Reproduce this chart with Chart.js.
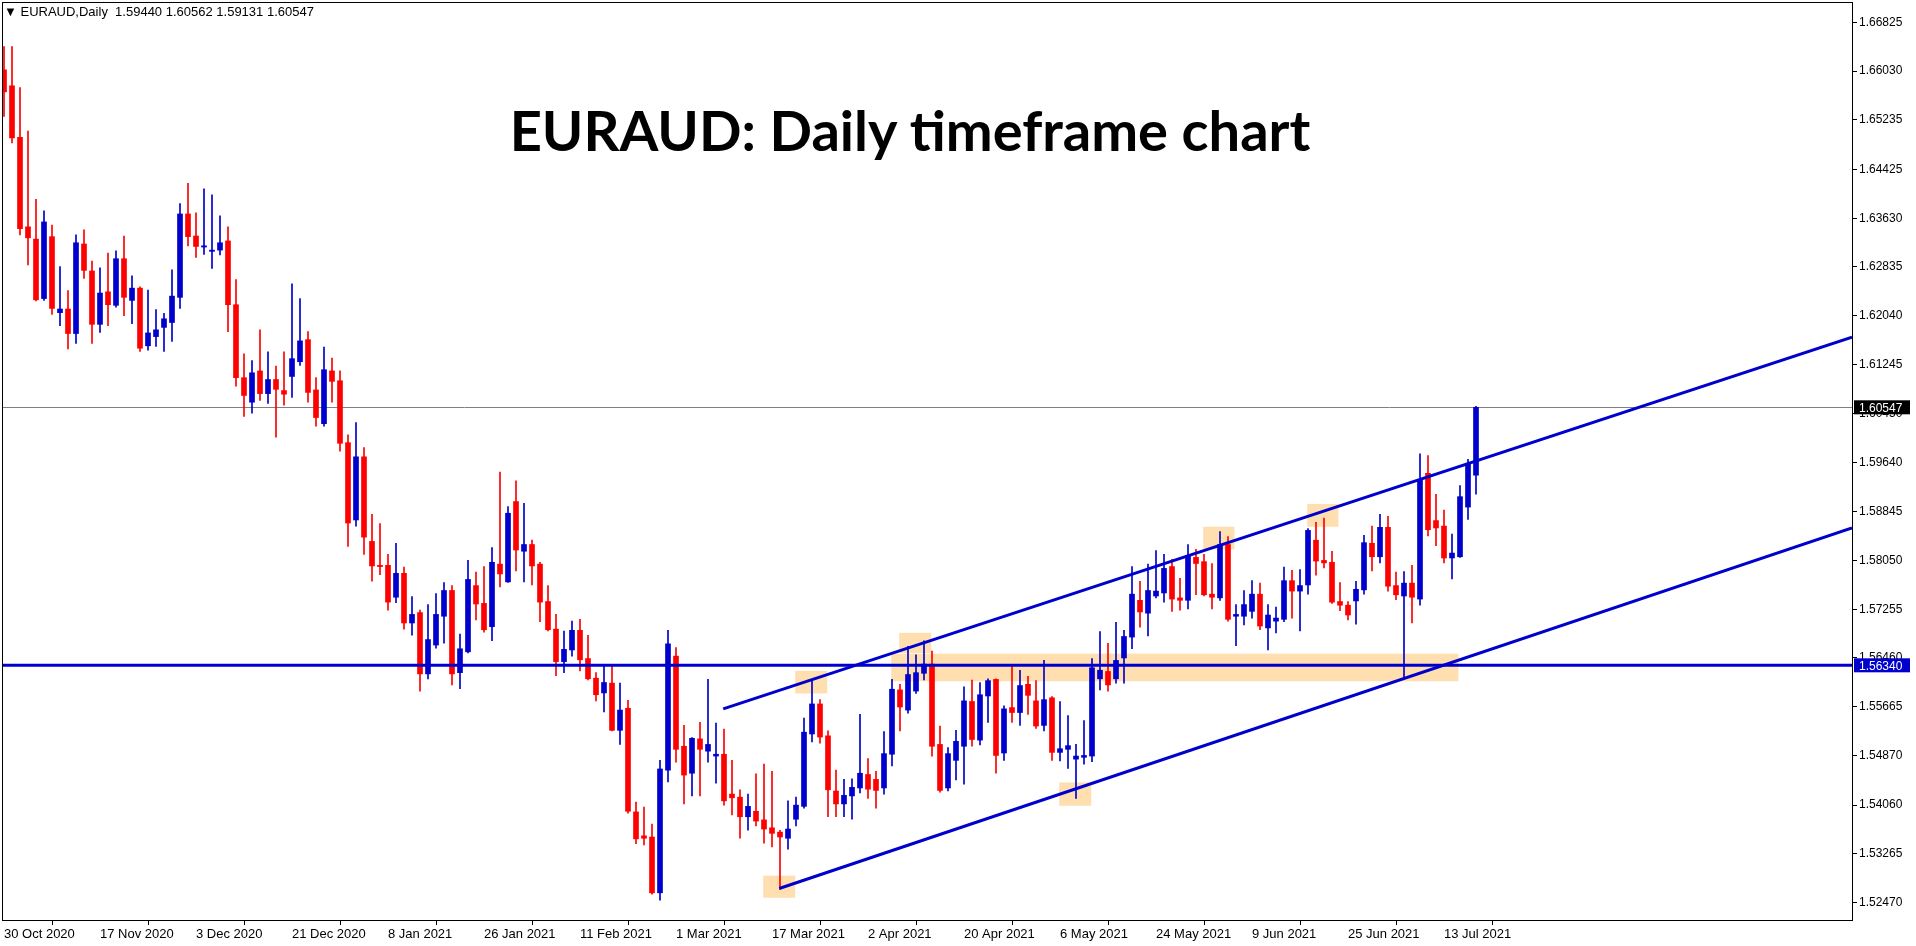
<!DOCTYPE html>
<html><head><meta charset="utf-8">
<script src="https://cdn.jsdelivr.net/npm/chart.js@4"></script>
<style>
html,body{margin:0;padding:0;background:#fff;overflow:hidden}
#wrap{position:relative;width:1916px;height:946px}
#hdr{position:absolute;left:4px;top:4px;font:13px "Liberation Sans",Arial,sans-serif;color:#000;white-space:pre}
#ttl{position:absolute;left:0;width:1820px;top:96px;text-align:center;font:bold 56px Lato,"Open Sans",sans-serif;color:#000}
</style></head><body>
<div id="wrap"><canvas id="c" width="1916" height="946"></canvas>
<div id="hdr">▼ EURAUD,Daily  1.59440 1.60562 1.59131 1.60547</div>
<div id="ttl">EURAUD: Daily timeframe chart</div></div>
<script>
const opens=[1.6605,1.6579,1.6495,1.6349,1.6329,1.6232,1.6333,1.6209,1.6215,1.6175,1.6321,1.6277,1.6190,1.6243,1.6221,1.6297,1.6229,1.6249,1.6155,1.6170,1.6185,1.6193,1.6234,1.6370,1.6334,1.6316,1.6309,1.6311,1.6326,1.6222,1.6103,1.6063,1.6114,1.6077,1.6100,1.6082,1.6105,1.6129,1.6165,1.6083,1.6028,1.6114,1.6098,1.5997,1.5871,1.5974,1.5836,1.5797,1.5797,1.5745,1.5784,1.5703,1.5720,1.5620,1.5667,1.5714,1.5756,1.5622,1.5656,1.5764,1.5735,1.5697,1.5799,1.5770,1.5901,1.5820,1.5831,1.5799,1.5738,1.5693,1.5640,1.5659,1.5691,1.5645,1.5613,1.5589,1.5605,1.5528,1.5564,1.5395,1.5356,1.5354,1.5263,1.5463,1.5649,1.5502,1.5458,1.5514,1.5494,1.5486,1.5489,1.5424,1.5419,1.5387,1.5396,1.5382,1.5369,1.5362,1.5352,1.5383,1.5404,1.5522,1.5571,1.5519,1.5429,1.5408,1.5421,1.5434,1.5456,1.5448,1.5434,1.5489,1.5594,1.5561,1.5592,1.5621,1.5636,1.5505,1.5434,1.5479,1.5502,1.5575,1.5512,1.5584,1.5611,1.5491,1.5565,1.5557,1.5603,1.5576,1.5536,1.5581,1.5492,1.5497,1.5481,1.5484,1.5486,1.5612,1.5624,1.5612,1.5646,1.5680,1.5740,1.5719,1.5747,1.5752,1.5795,1.5744,1.5740,1.5810,1.5803,1.5750,1.5744,1.5831,1.5714,1.5714,1.5722,1.5750,1.5695,1.5706,1.5709,1.5772,1.5755,1.5765,1.5838,1.5805,1.5802,1.5738,1.5732,1.5739,1.5757,1.5833,1.5811,1.5859,1.5764,1.5747,1.5768,1.5742,1.5947,1.5870,1.5861,1.5809,1.5811,1.5892,1.5944];
const highs=[1.6643,1.6643,1.6576,1.6505,1.6394,1.6375,1.6352,1.6284,1.6245,1.6336,1.6344,1.6293,1.6282,1.6306,1.6310,1.6334,1.6269,1.6251,1.6246,1.6214,1.6208,1.6279,1.6387,1.6420,1.6372,1.6411,1.6401,1.6367,1.6349,1.6263,1.6142,1.6131,1.6181,1.6145,1.6122,1.6145,1.6256,1.6232,1.6178,1.6103,1.6153,1.6135,1.6114,1.6010,1.6030,1.5989,1.5880,1.5865,1.5815,1.5833,1.5794,1.5746,1.5724,1.5733,1.5751,1.5769,1.5764,1.5685,1.5805,1.5786,1.5795,1.5826,1.5949,1.5893,1.5935,1.5898,1.5838,1.5802,1.5764,1.5717,1.5690,1.5706,1.5709,1.5683,1.5622,1.5633,1.5633,1.5605,1.5577,1.5411,1.5403,1.5375,1.5479,1.5691,1.5663,1.5536,1.5516,1.5541,1.5611,1.5540,1.5530,1.5479,1.5431,1.5424,1.5457,1.5473,1.5461,1.5365,1.5413,1.5419,1.5548,1.5611,1.5578,1.5527,1.5463,1.5448,1.5449,1.5554,1.5482,1.5461,1.5526,1.5611,1.5603,1.5665,1.5651,1.5674,1.5657,1.5535,1.5500,1.5528,1.5599,1.5610,1.5606,1.5612,1.5612,1.5568,1.5632,1.5626,1.5616,1.5609,1.5642,1.5583,1.5575,1.5552,1.5505,1.5544,1.5645,1.5689,1.5670,1.5704,1.5691,1.5795,1.5771,1.5799,1.5821,1.5815,1.5807,1.5776,1.5831,1.5823,1.5815,1.5800,1.5852,1.5844,1.5733,1.5756,1.5772,1.5768,1.5733,1.5729,1.5794,1.5789,1.5790,1.5857,1.5867,1.5874,1.5820,1.5769,1.5738,1.5771,1.5846,1.5861,1.5880,1.5877,1.5786,1.5787,1.5797,1.5979,1.5976,1.5913,1.5887,1.5848,1.5927,1.5970,1.60562];
const lows=[1.6529,1.6486,1.6336,1.6287,1.6228,1.6229,1.6206,1.6188,1.6150,1.6159,1.6265,1.6159,1.6177,1.6188,1.6218,1.6204,1.6191,1.6146,1.6148,1.6154,1.6146,1.6162,1.6216,1.6318,1.6299,1.6304,1.6281,1.6303,1.6178,1.6089,1.6040,1.6045,1.6066,1.6061,1.6006,1.6058,1.6071,1.6123,1.6063,1.6024,1.6024,1.6063,1.5983,1.5828,1.5861,1.5815,1.5771,1.5782,1.5724,1.5736,1.5693,1.5683,1.5592,1.5612,1.5662,1.5670,1.5602,1.5596,1.5654,1.5708,1.5688,1.5674,1.5762,1.5769,1.5788,1.5770,1.5765,1.5705,1.5690,1.5617,1.5622,1.5649,1.5625,1.5610,1.5576,1.5558,1.5527,1.5505,1.5393,1.5343,1.5341,1.5261,1.5251,1.5444,1.5476,1.5408,1.5421,1.5421,1.5476,1.5442,1.5406,1.5390,1.5352,1.5365,1.5372,1.5344,1.5338,1.5269,1.5334,1.5372,1.5401,1.5509,1.5507,1.5387,1.5387,1.5387,1.5383,1.5426,1.5417,1.5401,1.5424,1.5470,1.5527,1.5556,1.5588,1.5610,1.5486,1.5427,1.5429,1.5447,1.5440,1.5502,1.5504,1.5541,1.5458,1.5479,1.5541,1.5536,1.5554,1.5531,1.5527,1.5479,1.5478,1.5466,1.5417,1.5473,1.5477,1.5594,1.5592,1.5605,1.5605,1.5661,1.5696,1.5682,1.5744,1.5737,1.5722,1.5724,1.5726,1.5749,1.5747,1.5726,1.5740,1.5706,1.5666,1.5700,1.5711,1.5692,1.5659,1.5687,1.5705,1.5711,1.5690,1.5750,1.5781,1.5793,1.5735,1.5723,1.5708,1.5701,1.5750,1.5788,1.5801,1.5755,1.5741,1.5612,1.5703,1.5732,1.5845,1.5829,1.5801,1.5775,1.5810,1.5872,1.59131];
const closes=[1.6569,1.6494,1.6346,1.6331,1.6230,1.6357,1.6216,1.6215,1.6175,1.6323,1.6278,1.6190,1.6241,1.6222,1.6297,1.6234,1.6249,1.6151,1.6176,1.6181,1.6199,1.6236,1.6370,1.6333,1.6317,1.6318,1.6311,1.6323,1.6222,1.6103,1.6074,1.6111,1.6077,1.6100,1.6084,1.6076,1.6134,1.6163,1.6079,1.6038,1.6116,1.6097,1.5996,1.5866,1.5974,1.5843,1.5796,1.5795,1.5737,1.5784,1.5703,1.5717,1.5620,1.5676,1.5717,1.5756,1.5620,1.5661,1.5774,1.5734,1.5692,1.5802,1.5783,1.5882,1.5822,1.5831,1.5796,1.5737,1.5692,1.5640,1.5660,1.5691,1.5643,1.5612,1.5586,1.5606,1.5528,1.5561,1.5396,1.5351,1.5352,1.5263,1.5465,1.5669,1.5497,1.5455,1.5515,1.5497,1.5505,1.5489,1.5413,1.5418,1.5387,1.5404,1.5380,1.5367,1.5360,1.5354,1.5367,1.5406,1.5525,1.5571,1.5517,1.5431,1.5408,1.5422,1.5435,1.5458,1.5432,1.5430,1.5490,1.5595,1.5566,1.5619,1.5622,1.5636,1.5502,1.5430,1.5490,1.5510,1.5576,1.5513,1.5586,1.5609,1.5487,1.5563,1.5557,1.5601,1.5585,1.5535,1.5578,1.5492,1.5498,1.5503,1.5486,1.5487,1.5630,1.5626,1.5602,1.5642,1.5681,1.5750,1.5721,1.5756,1.5755,1.5792,1.5742,1.5740,1.5813,1.5800,1.5749,1.5745,1.5831,1.5709,1.5717,1.5733,1.5750,1.5698,1.5716,1.5711,1.5772,1.5755,1.5764,1.5854,1.5804,1.5801,1.5737,1.5732,1.5716,1.5758,1.5834,1.5811,1.5859,1.5763,1.5749,1.5768,1.5745,1.5937,1.5855,1.5858,1.5809,1.5817,1.5909,1.5963,1.60547];
const xTickIdx=[0,12,24,36,48,60,72,84,96,108,120,132,144,156,168,180];
const xTickLabels=["30 Oct 2020","17 Nov 2020","3 Dec 2020","21 Dec 2020","8 Jan 2021","26 Jan 2021","11 Feb 2021","1 Mar 2021","17 Mar 2021","2 Apr 2021","20 Apr 2021","6 May 2021","24 May 2021","9 Jun 2021","25 Jun 2021","13 Jul 2021"];
const yTicks=[1.52470,1.53265,1.54060,1.54870,1.55665,1.56460,1.57255,1.58050,1.58845,1.59640,1.60450,1.61245,1.62040,1.62835,1.63630,1.64425,1.65235,1.66030,1.66825];
const supportLevel=1.56340;
const lastPrice=1.60547;
const upperChannel=[{x:89.9,y:1.5563},{x:187,y:1.5980}];
const lowerChannel=[{x:96.9,y:1.5270},{x:187,y:1.5665}];
// zones: [x1,x2,priceLow,priceHigh]
const zones=[[94.9,98.9,1.5255,1.5291],[98.9,102.9,1.5588,1.5625],[111.9,115.9,1.5654,1.5687],[110.9,181.8,1.5608,1.5653],[131.9,135.9,1.5405,1.5443],[149.9,153.8,1.5823,1.5860],[162.9,166.8,1.5860,1.5897]];

const RED='#FF0000',BLUE='#0000CD';
const XMIN=-0.25,XMAX=231;
function extend(pts,xe){const a=pts[0],b=pts[1];const s=(b.y-a.y)/(b.x-a.x);return [a,{x:xe,y:a.y+s*(xe-a.x)}];}
const cols=opens.map((o,i)=>closes[i]>=o?BLUE:RED);
const wick=opens.map((o,i)=>({x:i,y:[lows[i],highs[i]]}));
const body=opens.map((o,i)=>({x:i,y:[Math.min(o,closes[i]),Math.max(o,closes[i])]}));

const bg={id:'bg',beforeDatasetsDraw(ch){const {ctx,scales:{x,y}}=ch;ctx.save();ctx.fillStyle='rgba(255,222,176,1)';
 zones.forEach(z=>{const x1=x.getPixelForValue(z[0]),x2=x.getPixelForValue(z[1]),y1=y.getPixelForValue(z[3]),y2=y.getPixelForValue(z[2]);ctx.fillRect(x1,y1,x2-x1,y2-y1);});
 const ca=ch.chartArea;const gy=Math.round(y.getPixelForValue(lastPrice))+0.5;ctx.strokeStyle='#808080';ctx.lineWidth=1;ctx.beginPath();ctx.moveTo(ca.left,gy);ctx.lineTo(ca.right,gy);ctx.stroke();ctx.restore();},
 afterDraw(ch){const {ctx,scales:{y}}=ch;const ca=ch.chartArea;ctx.save();ctx.strokeStyle='#000';ctx.lineWidth=1;ctx.strokeRect(ca.left+0.5,ca.top+0.5,ca.right-ca.left,ca.bottom-ca.top);
 ctx.font='12px "Liberation Sans", Arial';ctx.textBaseline='middle';
 let py=y.getPixelForValue(lastPrice);ctx.fillStyle='#000';ctx.fillRect(ca.right+2,py-7,56,14);ctx.fillStyle='#fff';ctx.fillText(lastPrice.toFixed(5),ca.right+7,py+1);
 py=y.getPixelForValue(supportLevel);ctx.fillStyle=BLUE;ctx.fillRect(ca.right+2,py-7,56,14);ctx.fillStyle='#fff';ctx.fillText(supportLevel.toFixed(5),ca.right+7,py+1);
 ctx.restore();}};

new Chart(document.getElementById('c'),{
 data:{datasets:[
  {type:'bar',data:wick,backgroundColor:cols,barThickness:1,grouped:false,order:3},
  {type:'bar',data:body,backgroundColor:cols,barThickness:5,minBarLength:1,grouped:false,order:2},
  {type:'line',data:[{x:XMIN,y:supportLevel},{x:XMAX,y:supportLevel}],borderColor:BLUE,borderWidth:3,pointRadius:0,order:1},
  {type:'line',data:extend(upperChannel,XMAX),borderColor:BLUE,borderWidth:3,pointRadius:0,order:1},
  {type:'line',data:extend(lowerChannel,XMAX),borderColor:BLUE,borderWidth:3,pointRadius:0,order:1}
 ]},
 options:{responsive:false,animation:false,events:[],
  layout:{padding:{top:2,left:2,right:0,bottom:0}},
  plugins:{legend:{display:false},tooltip:{enabled:false}},
  scales:{
   x:{type:'linear',min:XMIN,max:XMAX,offset:false,
      afterBuildTicks:a=>{a.ticks=xTickIdx.map(v=>({value:v}));},
      afterFit:s=>{s.height=26;s.paddingLeft=0;s.paddingRight=0;},
      ticks:{autoSkip:false,maxRotation:0,align:'start',padding:2,color:'#000',font:{family:'"Liberation Sans", Arial',size:13},callback:(v)=>{const k=xTickIdx.indexOf(v);return k>=0?xTickLabels[k]:'';}},
      grid:{display:true,drawOnChartArea:false,tickLength:5,color:'#000'},border:{display:true,color:'#000'}},
   y:{position:'right',min:1.52187,max:1.67156,
      afterBuildTicks:a=>{a.ticks=yTicks.map(v=>({value:v}));},
      afterFit:s=>{s.width=64;s.paddingTop=0;s.paddingBottom=0;},
      ticks:{autoSkip:false,padding:2,color:'#000',font:{family:'"Liberation Sans", Arial',size:12},callback:v=>Number(v).toFixed(5)},
      grid:{display:true,drawOnChartArea:false,tickLength:5,color:'#000'},border:{display:true,color:'#000'}}
  }},
 plugins:[bg]
});
</script></body></html>
